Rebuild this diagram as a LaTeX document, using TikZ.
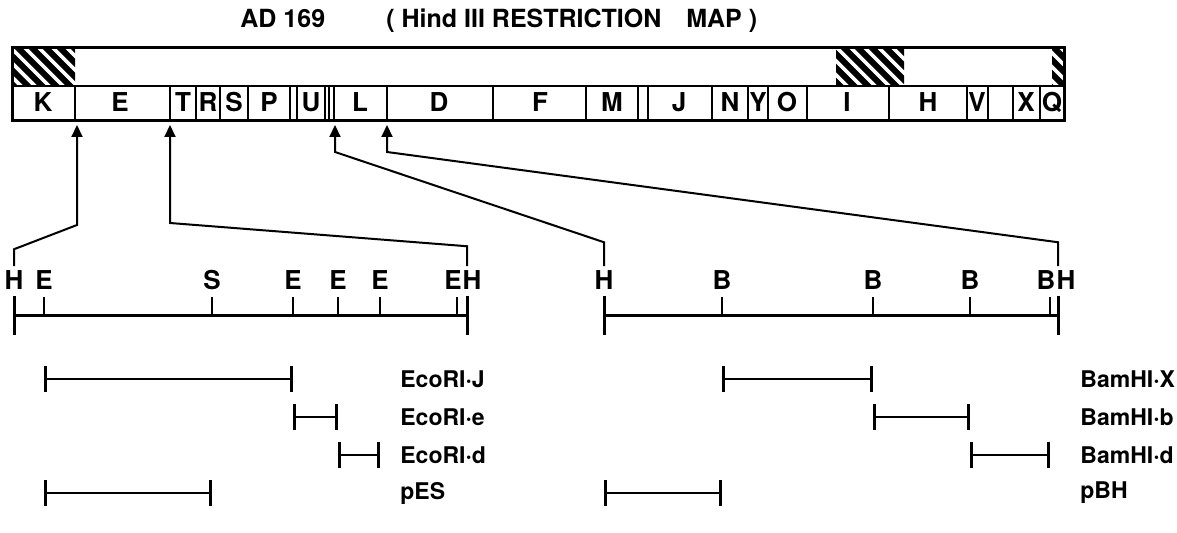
\documentclass[tikz,border=0pt]{standalone}
\usepackage{fontspec}
\setmainfont{TeX Gyre Heros}
\usetikzlibrary{arrows.meta,positioning}

\begin{document}
\begin{tikzpicture}[x=0.5pt, y=-0.5pt,
      frag/.style={font=\bfseries\fontsize{13}{15}\selectfont, inner sep=0pt, anchor=base},
      site/.style={font=\bfseries\fontsize{13}{15}\selectfont, inner sep=0pt},
      clone/.style={font=\bfseries\fontsize{11.5}{14}\selectfont, inner sep=0pt, anchor=west},
      ttl/.style={font=\bfseries\fontsize{12.5}{15}\selectfont, inner sep=0pt, anchor=base west},
      bar/.style={line width=1.5pt},
      div/.style={line width=1pt},
      hatch/.style={line width=3pt},
      arr/.style={-{Triangle[length=6pt,width=5.5pt]}, line width=1pt},
      scl/.style={line width=1.5pt},
      tick/.style={line width=1pt},
      seg/.style={{Bar[width=13pt]}-{Bar[width=13pt]}, line width=1.3pt}
  ]
    \useasboundingbox (0,0) rectangle (1177,533);

    % title
    \node[ttl] (ad) at (240,28) {AD 169};
    \node[ttl] (map) at (386,28) {( Hind III RESTRICTION\hspace{1em}MAP )};

    % hatched repeats
    \begin{scope}
      \clip (12,48) rectangle (75,86) (836,48) rectangle (904,86) (1052,48) rectangle (1064,86);
      \foreach \s in {-60,-46,...,1064} \draw[hatch] (\s,40) -- ++(56,56);
    \end{scope}

    % HindIII map
    \draw[bar] (12,48) rectangle (1064,121);
    \draw[div] (12,86) -- (1064,86);
    \foreach \x in {75,170,196,220,248,290,297,325,329,334,387,493,586,638,648,712,748,768,807,889,967,988,1013,1040}
      \draw[div] (\x,86) -- (\x,121);
    \node[frag] (fK) at (43,112) {K};
    \node[frag] (fE) at (120,112) {E};
    \node[frag] (fT) at (183,112) {T};
    \node[frag] (fR) at (208,112) {R};
    \node[frag] (fS) at (234,112) {S};
    \node[frag] (fP) at (269,112) {P};
    \node[frag] (fU) at (311,112) {U};
    \node[frag] (fL) at (360,112) {L};
    \node[frag] (fD) at (439,112) {D};
    \node[frag] (fF) at (540,112) {F};
    \node[frag] (fM) at (612,112) {M};
    \node[frag] (fJ) at (679,112) {J};
    \node[frag] (fN) at (730,112) {N};
    \node[frag] (fY) at (758,112) {Y};
    \node[frag] (fO) at (787,112) {O};
    \node[frag] (fI) at (847,112) {I};
    \node[frag] (fH) at (928,112) {H};
    \node[frag] (fV) at (977,112) {V};
    \node[frag] (fX) at (1026,112) {X};
    \node[frag] (fQ) at (1052,112) {Q};
    \coordinate (kE) at (77,125);
    \coordinate (eT) at (170,125);
    \coordinate (uL) at (335,125);
    \coordinate (lD) at (387,125);

    % EcoRI / SalI map of the left end
    \coordinate (hA) at (14,316);  \coordinate (eA) at (44,316);
    \coordinate (sA) at (212,316); \coordinate (eB) at (293,316);
    \coordinate (eC) at (338,316); \coordinate (eD) at (380,316);
    \coordinate (eE) at (457,316); \coordinate (hB) at (467,316);
    \draw[scl] (hA) -- (hB);
    \draw[scl] (hA) ++(0,-20) -- ++(0,39);
    \draw[scl] (hB) ++(0,-20) -- ++(0,39);
    \draw[tick] (eA) -- ++(0,-19); \draw[tick] (sA) -- ++(0,-19);
    \draw[tick] (eB) -- ++(0,-19); \draw[tick] (eC) -- ++(0,-19);
    \draw[tick] (eD) -- ++(0,-19); \draw[tick] (eE) -- ++(0,-19);
    \node[site, above=13pt of hA] (lhA) {H};
    \node[site, above=13pt of eA] (leA) {E};
    \node[site, above=13pt of sA] (lsA) {S};
    \node[site, above=13pt of eB] (leB) {E};
    \node[site, above=13pt of eC] (leC) {E};
    \node[site, above=13pt of eD] (leD) {E};
    \node[site, above=13pt of eE, xshift=-2pt] (leE) {E};
    \node[site, above=13pt of hB, xshift=2.5pt] (lhB) {H};

    % BamHI map of the middle part
    \coordinate (hC) at (604,316); \coordinate (bA) at (722,316);
    \coordinate (bB) at (873,316); \coordinate (bC) at (970,316);
    \coordinate (bD) at (1050,316); \coordinate (hD) at (1058,316);
    \draw[scl] (hC) -- (hD);
    \draw[scl] (hC) ++(0,-20) -- ++(0,39);
    \draw[scl] (hD) ++(0,-20) -- ++(0,39);
    \draw[tick] (bA) -- ++(0,-19); \draw[tick] (bB) -- ++(0,-19);
    \draw[tick] (bC) -- ++(0,-19); \draw[tick] (bD) -- ++(0,-19);
    \node[site, above=13pt of hC] (lhC) {H};
    \node[site, above=13pt of bA] (lbA) {B};
    \node[site, above=13pt of bB] (lbB) {B};
    \node[site, above=13pt of bC] (lbC) {B};
    \node[site, above=13pt of bD, xshift=-2pt] (lbD) {B};
    \node[site, above=13pt of hD, xshift=4pt] (lhD) {H};

    % where the two maps lie on the HindIII map
    \draw[arr] ([yshift=2pt]lhA.north) -- ++(0,-17) -- ([yshift=-50pt]kE) -- (kE);
    \draw[arr] ([xshift=-2.5pt,yshift=2pt]lhB.north) -- ++(0,-20) -- ([yshift=-49pt]eT) -- (eT);
    \draw[arr] ([yshift=2pt]lhC.north) -- ++(0,-24) -- ([yshift=-13.5pt]uL) -- (uL);
    \draw[arr] ([xshift=-4pt,yshift=2pt]lhD.north) -- ++(0,-24) -- ([yshift=-13.5pt]lD) -- (lD);

    % cloned fragments
    \node[clone] (cJ) at (400,379) {EcoRI·J};
    \node[clone] (ce) at (400,417) {EcoRI·e};
    \node[clone] (cd) at (400,455) {EcoRI·d};
    \node[clone] (cES) at (400,493) {pES};
    \draw[seg] (eA |- cJ) -- (eB |- cJ);
    \draw[seg] (eB |- ce) -- (eC |- ce);
    \draw[seg] (eC |- cd) -- (eD |- cd);
    \draw[seg] (eA |- cES) -- (sA |- cES);
    \node[clone] (cX) at (1080,379) {BamHI·X};
    \node[clone] (cb) at (1080,417) {BamHI·b};
    \node[clone] (cdd) at (1080,455) {BamHI·d};
    \node[clone] (cBH) at (1080,493) {pBH};
    \draw[seg] (bA |- cX) -- (bB |- cX);
    \draw[seg] (bB |- cb) -- (bC |- cb);
    \draw[seg] (bC |- cdd) -- (bD |- cdd);
    \draw[seg] (hC |- cBH) -- (bA |- cBH);
\end{tikzpicture}
\end{document}
